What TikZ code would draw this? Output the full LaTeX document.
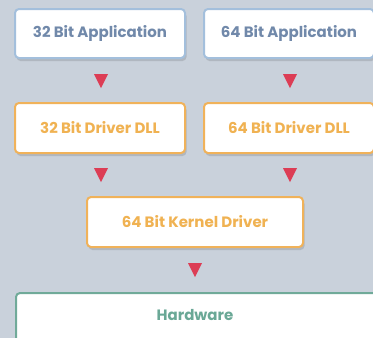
\documentclass[tikz,border=0pt]{standalone}
\usepackage{fontspec}
\setmainfont{Poppins}
\usetikzlibrary{shadows}
\definecolor{bg}{HTML}{C9D1DB}
\definecolor{blueb}{HTML}{A3BFDC}
\definecolor{bluet}{HTML}{7189AA}
\definecolor{orb}{HTML}{F0B25A}
\definecolor{ort}{HTML}{F0B252}
\definecolor{grb}{HTML}{70AA99}
\definecolor{grt}{HTML}{6AA896}
\definecolor{arr}{HTML}{DC3D55}
\tikzset{
  lbl/.style={font=\fontsize{15}{17}\selectfont\bfseries},
  box/.style={draw, line width=2pt, fill=white, rounded corners=4pt, inner sep=0pt, lbl,
    drop shadow={shadow xshift=1.5pt, shadow yshift=-3pt, opacity=0.12, fill=black}},
  bluebox/.style={box, draw=blueb, text=bluet},
  orbox/.style={box, draw=orb, text=ort},
  grbox/.style={box, draw=grb, text=grt}
}
\begin{document}
\begin{tikzpicture}[x=1pt,y=-1pt]
\useasboundingbox[fill=bg] (0,0) rectangle (373,338);
\node[bluebox, minimum width=170pt, minimum height=49pt] (a32) at (100,33.5) {32 Bit Application};
\node[bluebox, minimum width=170pt, minimum height=49pt] (a64) at (289,33.5) {64 Bit Application};
\node[orbox, minimum width=170pt, minimum height=50pt] (d32) at (100,128) {32 Bit Driver DLL};
\node[orbox, minimum width=170pt, minimum height=50pt] (d64) at (289,128) {64 Bit Driver DLL};
\node[orbox, minimum width=216pt, minimum height=50pt] (k) at (195,222) {64 Bit Kernel Driver};
\node[grbox, minimum width=362pt, minimum height=70pt, anchor=north west] (hw) at (15,292) {};
\node[lbl, text=grt] (hwt) at (195,315) {Hardware};
\fill[arr] (94,74) -- (108,74) -- (101,88) -- cycle;
\fill[arr] (283,74) -- (297,74) -- (290,88) -- cycle;
\fill[arr] (94,168) -- (108,168) -- (101,182) -- cycle;
\fill[arr] (283,168) -- (297,168) -- (290,182) -- cycle;
\fill[arr] (188,263) -- (202,263) -- (195,277) -- cycle;
\end{tikzpicture}
\end{document}
